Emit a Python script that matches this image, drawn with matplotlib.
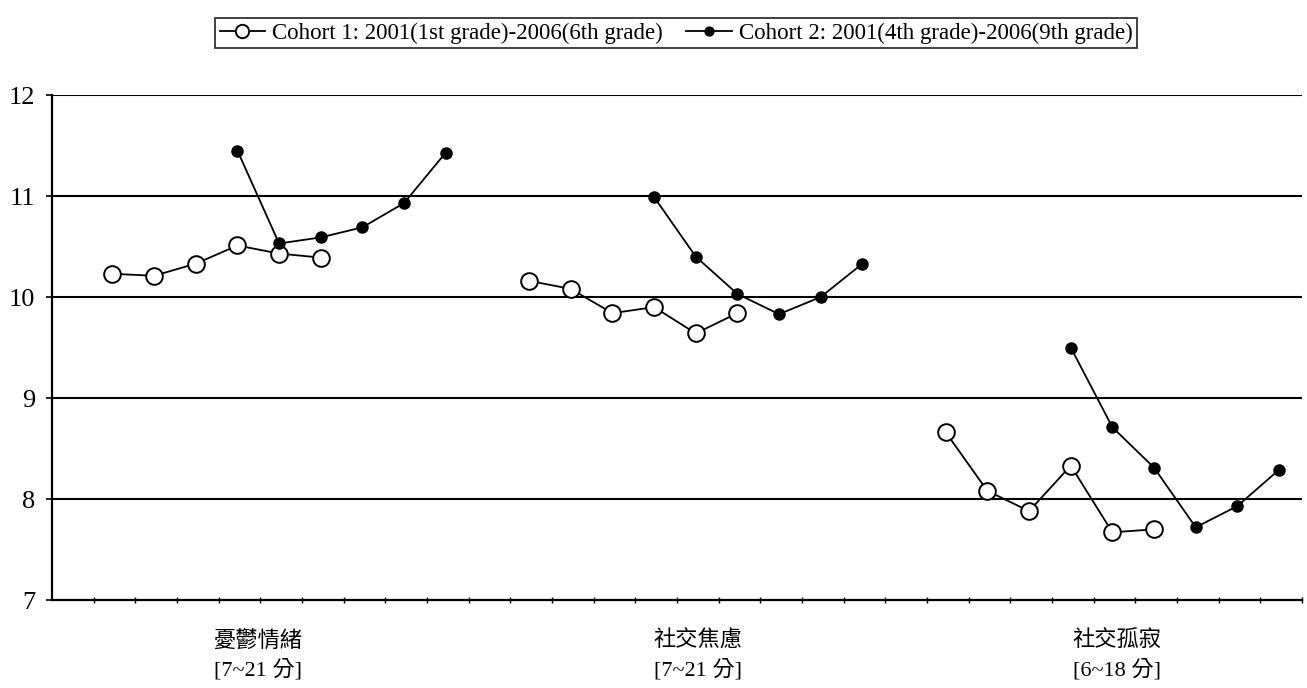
import matplotlib
matplotlib.use("Agg")
import matplotlib.pyplot as plt
import numpy as np

# ---- data ----
groups = ["憂鬱情緒\n[7~21 分]", "社交焦慮\n[7~21 分]", "社交孤寂\n[6~18 分]"]
n_slots = 30
cohort1_label = "Cohort 1: 2001(1st grade)-2006(6th grade)"
cohort2_label = "Cohort 2: 2001(4th grade)-2006(9th grade)"

c1_g1 = [10.23, 10.21, 10.33, 10.51, 10.43, 10.39]
c2_g1 = [11.45, 10.53, 10.59, 10.69, 10.93, 11.43]
c1_g2 = [10.16, 10.08, 9.84, 9.90, 9.64, 9.84]
c2_g2 = [10.99, 10.40, 10.03, 9.83, 10.00, 10.33]
c1_g3 = [8.66, 8.08, 7.88, 8.33, 7.67, 7.70]
c2_g3 = [9.50, 8.71, 8.31, 7.72, 7.93, 8.29]

c1_starts = [1, 11, 21]
c2_starts = [4, 14, 24]
yticks = [7, 8, 9, 10, 11, 12]

# ---- plot ----
serif = ["Liberation Serif", "Noto Sans CJK TC"]
plt.rcParams["font.family"] = serif

fig = plt.figure(figsize=(13.07, 6.88), dpi=100)
ax = fig.add_axes([52 / 1307, 1 - 600 / 688, 1250 / 1307, 505 / 688])

c1_series = [c1_g1, c1_g2, c1_g3]
c2_series = [c2_g1, c2_g2, c2_g3]
for k in range(3):
    x1 = np.arange(len(c1_series[k])) + c1_starts[k] + 0.45
    x2 = np.arange(len(c2_series[k])) + c2_starts[k] + 0.45
    ax.plot(x1, c1_series[k], color="black", lw=1.3, marker="o", ms=12,
            mfc="white", mec="black", mew=1.4,
            label=cohort1_label if k == 0 else None, zorder=3)
    ax.plot(x2, c2_series[k], color="black", lw=1.3, marker="o", ms=8,
            mfc="black", mec="black",
            label=cohort2_label if k == 0 else None, zorder=3)

ax.set_xlim(0, n_slots)
ax.set_ylim(7, 12)
ax.set_yticks(yticks)
ax.set_yticklabels([str(v) for v in yticks], fontsize=19)
ax.set_xticks(np.arange(1, n_slots + 1))
ax.set_xticklabels([])
ax.tick_params(axis="x", direction="inout", length=5, width=1)
ax.tick_params(axis="y", length=4, width=1.2, pad=8)
for y in yticks[1:]:
    ax.axhline(y, color="black", lw=1.5, zorder=1)
for s in ["top", "right"]:
    ax.spines[s].set_visible(False)
ax.spines["left"].set_linewidth(1.6)
ax.spines["bottom"].set_linewidth(1.6)

label_x = [4.94, 15.5, 25.56]
for gx, g in zip(label_x, groups):
    ax.annotate(g, xy=(gx, 7), xycoords="data", xytext=(0, -22),
                textcoords="offset points", ha="center", va="top",
                fontsize=16, family=serif, linespacing=1.45)

leg = fig.legend(loc="center", bbox_to_anchor=(676 / 1307, 1 - 33 / 688), ncol=2,
                 frameon=True, fancybox=False, edgecolor="black",
                 handlelength=2.0, handletextpad=0.3, columnspacing=1.0,
                 borderpad=0.2, prop={"family": serif, "size": 16.5},
                 markerscale=0.8)
leg.get_frame().set_linewidth(1.3)

fig.savefig("out.png", dpi=100)
